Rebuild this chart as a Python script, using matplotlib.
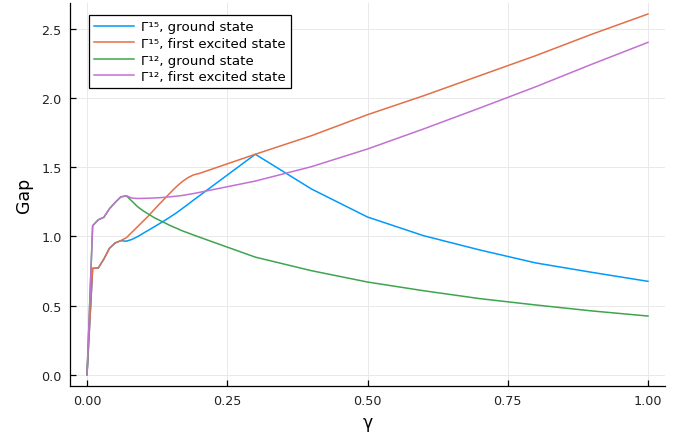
import matplotlib
matplotlib.use("Agg")
import matplotlib.pyplot as plt

# γ grid: fine steps up to 0.2, then 0.1
gamma = [0.0, 0.01, 0.02, 0.03, 0.04, 0.05, 0.06, 0.07, 0.08, 0.09, 0.10,
         0.11, 0.12, 0.13, 0.14, 0.15, 0.16, 0.17, 0.18, 0.19, 0.20,
         0.3, 0.4, 0.5, 0.6, 0.7, 0.8, 0.9, 1.0]

g15_ground = [0.0, 0.769, 0.771, 0.836, 0.914, 0.952, 0.969, 0.965, 0.978, 0.998, 1.022,
              1.046, 1.07, 1.094, 1.119, 1.145, 1.172, 1.202, 1.232, 1.263, 1.293,
              1.594, 1.343, 1.14, 1.005, 0.902, 0.808, 0.740, 0.675]
g15_excited = [0.0, 0.769, 0.771, 0.836, 0.914, 0.952, 0.969, 0.99, 1.03, 1.07, 1.11,
               1.15, 1.195, 1.238, 1.28, 1.322, 1.362, 1.397, 1.425, 1.445, 1.455,
               1.594, 1.728, 1.88, 2.017, 2.162, 2.307, 2.462, 2.608]
g12_ground = [0.0, 1.077, 1.12, 1.138, 1.2, 1.245, 1.285, 1.294, 1.255, 1.215, 1.185,
              1.16, 1.135, 1.115, 1.095, 1.075, 1.058, 1.04, 1.025, 1.01, 0.995,
              0.85, 0.752, 0.670, 0.607, 0.55, 0.504, 0.461, 0.424]
g12_excited = [0.0, 1.077, 1.12, 1.138, 1.2, 1.245, 1.285, 1.294, 1.277, 1.274, 1.275,
               1.276, 1.278, 1.28, 1.283, 1.287, 1.291, 1.296, 1.303, 1.31, 1.318,
               1.40, 1.504, 1.632, 1.777, 1.928, 2.082, 2.245, 2.403]

labels = ["Γ¹⁵, ground state", "Γ¹⁵, first excited state",
          "Γ¹², ground state", "Γ¹², first excited state"]
colors = ["#009AFA", "#E36F47", "#3EA44E", "#C271D2"]

fig = plt.figure(figsize=(6.84, 4.35), dpi=100)
ax = fig.add_axes([70.2 / 684, 48.5 / 435, 594.6 / 684, 382.3 / 435])

for ys, lab, col in zip([g15_ground, g15_excited, g12_ground, g12_excited], labels, colors):
    ax.plot(gamma, ys, color=col, lw=1.1, label=lab)

ymax = max(g15_excited)
ax.set_xlim(-0.03, 1.03)
ax.set_ylim(-0.03 * ymax, 1.03 * ymax)
ax.set_xticks([0, 0.25, 0.5, 0.75, 1.0])
ax.set_xticklabels(["0.00", "0.25", "0.50", "0.75", "1.00"])
ax.set_yticks([0, 0.5, 1.0, 1.5, 2.0, 2.5])
ax.set_yticklabels(["0.0", "0.5", "1.0", "1.5", "2.0", "2.5"])

ax.grid(True, color="#e9e9e9", lw=0.7)
ax.set_axisbelow(True)
for side in ["top", "right"]:
    ax.spines[side].set_visible(False)
for side in ["left", "bottom"]:
    ax.spines[side].set_linewidth(0.9)
ax.tick_params(direction="in", length=4, width=0.9, labelsize=9.2, pad=6.2,
               colors="black", labelcolor="#222222")

ax.set_xlabel("γ", fontsize=12.5, labelpad=4)
ax.set_ylabel("Gap", fontsize=12.5, labelpad=6)

leg = ax.legend(loc="upper left", bbox_to_anchor=(89 / 684, 1 - 16 / 435),
                bbox_transform=fig.transFigure, borderaxespad=0, fontsize=9.6,
                fancybox=False, framealpha=1, edgecolor="black",
                handlelength=3.0, handletextpad=0.5, labelspacing=0.27,
                borderpad=0.4)
leg.get_frame().set_linewidth(0.9)

fig.savefig("out.png", dpi=100)
